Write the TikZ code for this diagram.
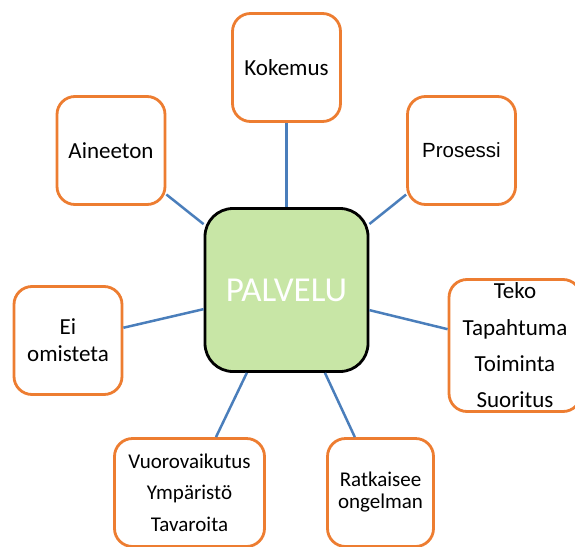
\documentclass[tikz,border=0pt]{standalone}
\usepackage{fontspec}
\setmainfont{Carlito}
\newfontfamily\arialfont{Liberation Sans}
\usepackage{tikz}
\definecolor{boxorange}{RGB}{237,125,49}
\definecolor{linkblue}{RGB}{74,126,187}
\definecolor{palvgreen}{RGB}{200,230,166}
\tikzset{
  osa/.style={draw=boxorange, line width=2.8pt, fill=white, rounded corners=18pt,
    rectangle, inner sep=0pt, align=center, minimum width=108pt, minimum height=108pt,
    font=\fontsize{23}{27}\selectfont},
  keski/.style={draw=black, line width=2.8pt, fill=palvgreen, rounded corners=28pt,
    rectangle, inner sep=0pt, minimum width=163pt, minimum height=163pt,
    text=white, font=\fontsize{35}{40}\selectfont},
  linkki/.style={draw=linkblue, line width=2.5pt},
}
\begin{document}
\begin{tikzpicture}[x=1pt,y=-1pt]
\useasboundingbox (0,0) rectangle (575,546);
\clip (0,0) rectangle (575,546);

\node [keski] (palvelu) at (286.5,290) {PALVELU};

\node [osa] (kokemus) at (286.5,67.5) {Kokemus};
\node [osa] (aineeton) at (111,150.5) {Aineeton};
\node [osa, font=\arialfont\fontsize{20.5}{25}\selectfont] (prosessi) at (461.5,150.5) {Prosessi};
\node [osa] (eiomisteta) at (68,340.5) {Ei\\omisteta};
\node [osa, minimum width=132pt, minimum height=132pt, font=\fontsize{23}{36.3}\selectfont] (teko) at (515,345.5) {Teko\\Tapahtuma\\Toiminta\\Suoritus};
\node [osa, minimum width=150pt, font=\fontsize{21}{31.5}\selectfont] (vuoro) at (189.5,492.5) {Vuorovaikutus\\Ympäristö\\Tavaroita};
\node [osa, minimum width=106pt, font=\fontsize{21}{22}\selectfont] (ratkaisee) at (380.5,492.5) {Ratkaisee\\ongelman};

% yhteydet keskeltä
\foreach \kohde in {kokemus,aineeton,prosessi,eiomisteta,teko,vuoro,ratkaisee}
  \draw [linkki] (palvelu) -- (\kohde);

\end{tikzpicture}
\end{document}
